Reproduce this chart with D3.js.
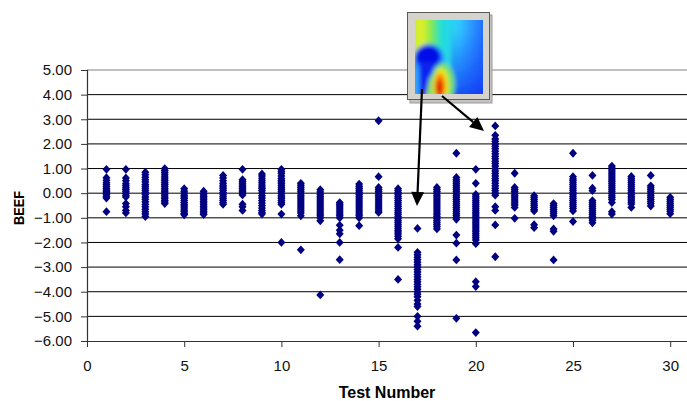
<!DOCTYPE html>
<html>
<head>
<meta charset="utf-8">
<script src="https://cdn.jsdelivr.net/npm/d3@7"></script>
<style>
  body { margin: 0; background: #fff; }
  svg { display: block; font-family: Arial, "Liberation Sans", sans-serif; }
</style>
</head>
<body>
<div id="chart"></div>
<script>
// ---- data ----
var testNumbers = [1, 2, 3, 4, 5, 6, 7, 8, 9, 10, 11, 12, 13, 14, 15,
                   16, 17, 18, 19, 20, 21, 22, 23, 24, 25, 26, 27, 28, 29, 30];

// BEEF values per test (one list per test number)
var beefValues = [
  [0.97, 0.63, 0.52, 0.42, 0.34, 0.27, 0.2, 0.13, 0.07, 0.01, -0.06, -0.13, -0.2, -0.75],
  [0.97, 0.62, 0.5, 0.38, 0.3, 0.22, 0.15, 0.08, 0.0, -0.08, -0.15, -0.42, -0.55, -0.7, -0.8],
  [0.85, 0.75, 0.65, 0.55, 0.45, 0.35, 0.28, 0.2, 0.12, 0.04, -0.05, -0.15, -0.25, -0.35, -0.45, -0.55, -0.65, -0.75, -0.85, -0.95],
  [1.0, 0.92, 0.84, 0.75, 0.66, 0.58, 0.5, 0.42, 0.35, 0.28, 0.2, 0.13, 0.06, 0.0, -0.07, -0.15, -0.22, -0.3, -0.36, -0.42],
  [0.18, 0.08, 0.0, -0.08, -0.15, -0.22, -0.3, -0.38, -0.45, -0.52, -0.6, -0.68, -0.75, -0.82, -0.88],
  [0.08, 0.0, -0.07, -0.14, -0.2, -0.27, -0.34, -0.4, -0.47, -0.54, -0.6, -0.67, -0.74, -0.8, -0.87],
  [0.72, 0.62, 0.5, 0.4, 0.32, 0.25, 0.18, 0.1, 0.02, -0.06, -0.14, -0.22, -0.3, -0.38, -0.45],
  [0.97, 0.55, 0.47, 0.4, 0.33, 0.26, 0.2, 0.13, 0.06, 0.0, -0.07, -0.45, -0.55, -0.7],
  [0.78, 0.7, 0.6, 0.5, 0.42, 0.33, 0.25, 0.18, 0.1, 0.0, -0.1, -0.2, -0.3, -0.4, -0.5, -0.6, -0.7, -0.78, -0.85],
  [0.97, 0.88, 0.8, 0.7, 0.6, 0.52, 0.45, 0.38, 0.3, 0.22, 0.15, 0.08, 0.0, -0.08, -0.15, -0.22, -0.3, -0.38, -0.45, -0.85, -2.0],
  [0.4, 0.32, 0.24, 0.16, 0.08, 0.0, -0.08, -0.16, -0.24, -0.32, -0.4, -0.48, -0.56, -0.64, -0.72, -0.8, -0.92, -2.3],
  [0.14, 0.05, -0.04, -0.12, -0.2, -0.28, -0.36, -0.44, -0.52, -0.6, -0.68, -0.76, -0.84, -0.92, -1.0, -1.12, -4.13],
  [-0.38, -0.45, -0.52, -0.6, -0.68, -0.76, -0.84, -0.92, -1.0, -1.3, -1.5, -1.65, -2.0, -2.7],
  [0.37, 0.28, 0.2, 0.12, 0.04, -0.04, -0.12, -0.2, -0.28, -0.36, -0.44, -0.52, -0.6, -0.68, -0.76, -0.84, -0.92, -1.0, -1.32],
  [2.94, 0.67, 0.23, 0.15, 0.07, 0.0, -0.08, -0.16, -0.24, -0.32, -0.4, -0.48, -0.56, -0.64, -0.72, -0.78],
  [0.18, 0.1, 0.02, -0.06, -0.14, -0.22, -0.3, -0.38, -0.46, -0.54, -0.62, -0.7, -0.78, -0.86, -0.94, -1.02, -1.1, -1.18, -1.26, -1.34, -1.42, -1.5, -1.58, -1.66, -1.75, -1.85, -2.2, -3.5],
  [-1.43, -2.4, -2.5, -2.6, -2.7, -2.8, -2.9, -3.0, -3.1, -3.2, -3.3, -3.4, -3.5, -3.6, -3.7, -3.8, -3.9, -4.0, -4.1, -4.2, -4.35, -4.5, -4.6, -5.0, -5.2, -5.4],
  [0.23, 0.15, 0.07, 0.0, -0.08, -0.16, -0.24, -0.32, -0.4, -0.48, -0.56, -0.64, -0.72, -0.8, -0.88, -0.96, -1.04, -1.12, -1.2, -1.28, -1.36, -1.45],
  [1.62, 0.64, 0.55, 0.46, 0.38, 0.3, 0.22, 0.14, 0.06, -0.02, -0.1, -0.18, -0.26, -0.34, -0.42, -0.5, -0.58, -0.66, -0.74, -0.82, -0.9, -0.98, -1.06, -1.7, -2.03, -2.71, -5.08],
  [0.97, 0.4, -0.05, -0.13, -0.21, -0.29, -0.37, -0.45, -0.53, -0.61, -0.69, -0.77, -0.85, -0.93, -1.01, -1.09, -1.17, -1.25, -1.33, -1.41, -1.49, -1.57, -1.65, -1.73, -1.81, -1.9, -2.05, -3.59, -3.79, -5.66],
  [2.73, 2.35, 2.2, 2.1, 2.0, 1.9, 1.8, 1.7, 1.6, 1.5, 1.4, 1.3, 1.2, 1.1, 1.0, 0.9, 0.8, 0.7, 0.6, 0.5, 0.4, 0.3, 0.2, 0.1, 0.0, -0.08, -0.55, -0.7, -1.29, -2.58],
  [0.81, 0.23, 0.15, 0.07, 0.0, -0.08, -0.16, -0.24, -0.32, -0.4, -0.48, -0.58, -1.02],
  [-0.1, -0.18, -0.26, -0.34, -0.42, -0.5, -0.58, -0.66, -0.72, -1.28, -1.4],
  [-0.42, -0.5, -0.58, -0.66, -0.74, -0.82, -0.92, -1.45, -1.55, -2.71],
  [1.62, 0.67, 0.58, 0.5, 0.42, 0.34, 0.26, 0.18, 0.1, 0.02, -0.06, -0.14, -0.22, -0.3, -0.38, -0.46, -0.54, -0.62, -0.72, -1.15],
  [0.72, 0.2, 0.1, -0.3, -0.38, -0.46, -0.54, -0.62, -0.7, -0.78, -0.86, -0.94, -1.02, -1.1, -1.2],
  [1.1, 1.02, 0.94, 0.86, 0.78, 0.7, 0.62, 0.54, 0.46, 0.38, 0.3, 0.22, 0.14, 0.06, -0.02, -0.1, -0.18, -0.26, -0.38, -0.75, -0.85],
  [0.68, 0.6, 0.52, 0.44, 0.36, 0.28, 0.2, 0.12, 0.04, -0.04, -0.12, -0.2, -0.28, -0.36, -0.44, -0.58],
  [0.72, 0.3, 0.22, 0.14, 0.06, -0.02, -0.1, -0.18, -0.26, -0.34, -0.42, -0.52],
  [-0.17, -0.25, -0.33, -0.41, -0.49, -0.57, -0.65, -0.73, -0.83]
];

var xTickValues = [0, 5, 10, 15, 20, 25, 30];
var yTickValues = [5, 4, 3, 2, 1, 0, -1, -2, -3, -4, -5, -6];

var xTitle = "Test Number", yTitle = "BEEF";

// ---- layout ----
var width = 687, height = 401;
var plotLeft = 87, plotTop = 70, plotBottom = 341;

var svg = d3.select("#chart").append("svg")
    .attr("width", width)
    .attr("height", height);

var x = d3.scaleLinear().domain([0, 35]).range([plotLeft, plotLeft + 35 * 19.44]);
var y = d3.scaleLinear().domain([-6, 5]).range([plotBottom, plotTop]);

// gridlines
svg.append("g").selectAll("line")
    .data(yTickValues.filter(function(d) { return d > -6; }))
    .enter().append("line")
    .attr("x1", plotLeft).attr("x2", width)
    .attr("y1", function(d) { return y(d); })
    .attr("y2", function(d) { return y(d); })
    .attr("stroke", function(d) { return d === 5 ? "#808080" : "#000"; })
    .attr("stroke-width", 1);

// axes
var yAxis = d3.axisLeft(y).tickValues(yTickValues)
    .tickFormat(d3.format(".2f")).tickSize(6).tickPadding(9);
var xAxis = d3.axisBottom(x).tickValues(xTickValues)
    .tickSize(6).tickPadding(13.4);

var gy = svg.append("g").attr("transform", "translate(" + plotLeft + ",0)").call(yAxis);
var gx = svg.append("g").attr("transform", "translate(0," + plotBottom + ")").call(xAxis);

[gx, gy].forEach(function(g) {
    g.select(".domain").attr("stroke", "#333").attr("stroke-width", 1.2);
    g.selectAll(".tick line").attr("stroke", "#333");
    g.selectAll(".tick text").attr("font-size", 15).attr("fill", "#111")
        .attr("font-family", "Arial, 'Liberation Sans', sans-serif");
});
gx.select(".domain").attr("d", "M" + plotLeft + ",0.5H" + width);

// axis titles
svg.append("text")
    .attr("x", (plotLeft + width) / 2).attr("y", 398)
    .attr("text-anchor", "middle")
    .attr("font-size", 16).attr("font-weight", "bold")
    .text(xTitle);

svg.append("text")
    .attr("transform", "translate(24,208) rotate(-90)")
    .attr("text-anchor", "middle")
    .attr("font-size", 15).attr("font-weight", "bold")
    .attr("textLength", 34).attr("lengthAdjust", "spacingAndGlyphs")
    .text(yTitle);

// points
var points = [];
testNumbers.forEach(function(t, i) {
    beefValues[i].forEach(function(v) { points.push({test: t, beef: v}); });
});

svg.append("g").selectAll("path")
    .data(points)
    .enter().append("path")
    .attr("d", "M0,-4.4L4,0L0,4.4L-4,0Z")
    .attr("transform", function(d) { return "translate(" + x(d.test) + "," + y(d.beef) + ")"; })
    .attr("fill", "#000080");

// ---- inset picture with arrows ----
var defs = svg.append("defs");

var bg = defs.append("linearGradient").attr("id", "heatBg")
    .attr("x1", "0%").attr("x2", "100%").attr("y1", "0%").attr("y2", "0%");
[["0%", "#b4ee3c"], ["16%", "#e2f028"], ["28%", "#84e850"], ["40%", "#20e0d8"],
 ["62%", "#30c8ff"], ["82%", "#2a8cff"], ["100%", "#1a5af6"]].forEach(function(s) {
    bg.append("stop").attr("offset", s[0]).attr("stop-color", s[1]);
});

var shade = defs.append("linearGradient").attr("id", "heatShade")
    .attr("x1", "0%").attr("x2", "0%").attr("y1", "0%").attr("y2", "100%");
shade.append("stop").attr("offset", "0%").attr("stop-color", "#1040ff").attr("stop-opacity", 0);
shade.append("stop").attr("offset", "100%").attr("stop-color", "#1030f0").attr("stop-opacity", 0.85);

defs.append("filter").attr("id", "soft")
    .attr("x", "-20%").attr("y", "-20%").attr("width", "140%").attr("height", "140%")
    .append("feGaussianBlur").attr("stdDeviation", 2);

defs.append("clipPath").attr("id", "heatClip")
    .append("rect").attr("width", 68).attr("height", 74);

var inset = svg.append("g");
// frame shadow and frame
inset.append("rect").attr("x", 410).attr("y", 15).attr("width", 82).attr("height", 88)
    .attr("fill", "#c4c4c4").attr("stroke", "#9a9a9a");
inset.append("rect").attr("x", 407.5).attr("y", 12.5).attr("width", 82).attr("height", 87)
    .attr("fill", "#d6d3cc").attr("stroke", "#5a5a5a");

var heat = inset.append("g").attr("transform", "translate(415,20)")
    .append("g").attr("clip-path", "url(#heatClip)")
    .append("g").attr("filter", "url(#soft)");
heat.append("rect").attr("x", -6).attr("y", -6).attr("width", 80).attr("height", 86).attr("fill", "url(#heatBg)");
heat.append("rect").attr("x", 36).attr("y", 10).attr("width", 40).attr("height", 70).attr("fill", "url(#heatShade)");
heat.append("ellipse").attr("cx", 3).attr("cy", 60).attr("rx", 9).attr("ry", 22).attr("fill", "#36a6ff");
heat.append("ellipse").attr("cx", 14).attr("cy", 40).attr("rx", 16).attr("ry", 16).attr("fill", "#2c9cff");
heat.append("ellipse").attr("cx", 13).attr("cy", 37).attr("rx", 13).attr("ry", 12).attr("fill", "#0008e8");
heat.append("path").attr("d", "M4,42L22,42L14,60L11,78L5,78Z").attr("fill", "#0820f0");
heat.append("ellipse").attr("cx", 28).attr("cy", 64).attr("rx", 12).attr("ry", 21).attr("fill", "#70e070");
heat.append("ellipse").attr("cx", 26).attr("cy", 65).attr("rx", 8).attr("ry", 17).attr("fill", "#eaea18");
heat.append("ellipse").attr("cx", 25).attr("cy", 66).attr("rx", 5.5).attr("ry", 13).attr("fill", "#ff8400");
heat.append("ellipse").attr("cx", 24.5).attr("cy", 68).attr("rx", 3.2).attr("ry", 9).attr("fill", "#dc1400");

// arrows
function arrow(g, x1, y1, x2, y2) {
    var dx = x2 - x1, dy = y2 - y1, len = Math.sqrt(dx * dx + dy * dy);
    var ux = dx / len, uy = dy / len, headL = 14, headW = 6.5;
    var bx = x2 - ux * headL, by = y2 - uy * headL;
    g.append("line").attr("x1", x1).attr("y1", y1).attr("x2", bx).attr("y2", by)
        .attr("stroke", "#000").attr("stroke-width", 2.2);
    g.append("path")
        .attr("d", "M" + x2 + "," + y2 +
                   "L" + (bx - uy * headW) + "," + (by + ux * headW) +
                   "L" + (bx + uy * headW) + "," + (by - ux * headW) + "Z")
        .attr("fill", "#000");
}
arrow(inset, 422, 89, 417, 206);
arrow(inset, 442, 96, 484, 131);
</script>
</body>
</html>
